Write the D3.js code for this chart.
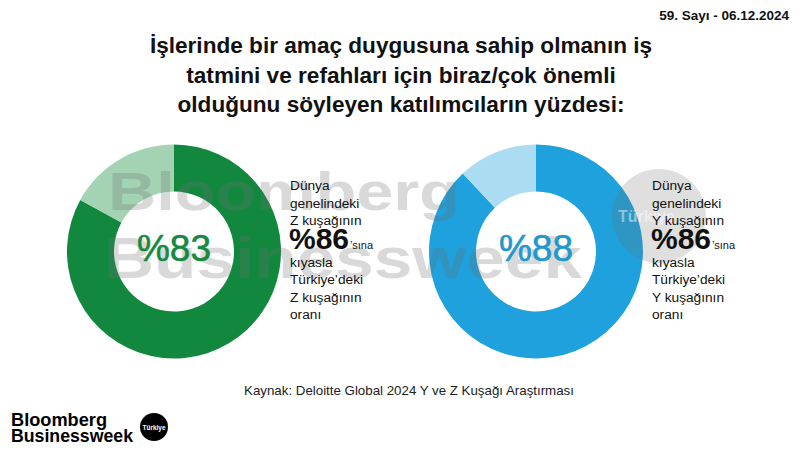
<!DOCTYPE html>
<html>
<head>
<meta charset="utf-8">
<script src="https://cdn.jsdelivr.net/npm/d3@7/dist/d3.min.js"></script>
<style>
  html, body { margin: 0; padding: 0; background: #fff; }
  svg { display: block; font-family: "Liberation Sans", Arial, sans-serif; }
</style>
</head>
<body>
<svg id="chart" width="800" height="450"></svg>
<script>
// ---- Data ----
const titleLines = [
  "İşlerinde bir amaç duygusuna sahip olmanın iş",
  "tatmini ve refahları için biraz/çok önemli",
  "olduğunu söyleyen katılımcıların yüzdesi:"
];
const issueLabel = "59. Sayı - 06.12.2024";
const sourceLabel = "Kaynak: Deloitte Global 2024 Y ve Z Kuşağı Araştırması";
const generations = ["Z", "Y"];
const turkeyValues = [83, 88];
const globalValues = [86, 86];
const mainColors = ["#12883f", "#1ea1dc"];
const restColors = ["#a3d3b3", "#acdcf2"];
const labelColors = ["#16893f", "#1f97cf"];

// ---- Drawing ----
const svg = d3.select("#chart");

// Title
const title = svg.append("text")
  .attr("x", 401).attr("y", 53)
  .attr("text-anchor", "middle")
  .attr("font-weight", "bold")
  .attr("font-size", 22.6)
  .attr("fill", "#111");
titleLines.forEach((t, i) => {
  title.append("tspan").attr("x", 401).attr("dy", i === 0 ? 0 : 29.5).text(t);
});

// Issue label
svg.append("text")
  .attr("x", 789).attr("y", 20)
  .attr("text-anchor", "end")
  .attr("font-weight", "bold")
  .attr("font-size", 13.5)
  .attr("fill", "#111")
  .text(issueLabel);

// Donut layout via band scale
const xScale = d3.scaleBand().domain(generations).range([0, 724]).paddingInner(0);
const centerX = g => xScale(g) + xScale.bandwidth() / 2 - 7;
const cy = 251.5;
const outerR = 107, innerR = 60;

const pie = d3.pie().sort(null).value(d => d.v);
const arc = d3.arc().innerRadius(innerR).outerRadius(outerR);

const donutLayer = svg.append("g");
generations.forEach((g, i) => {
  const data = [{ v: turkeyValues[i], c: mainColors[i] }, { v: 100 - turkeyValues[i], c: restColors[i] }];
  donutLayer.append("g")
    .attr("transform", `translate(${centerX(g)},${cy})`)
    .selectAll("path")
    .data(pie(data))
    .join("path")
    .attr("d", arc)
    .attr("fill", d => d.data.c);
});

// Watermark
const wm = svg.append("g").attr("opacity", 0.26).attr("fill", "#6e6e6e");
wm.append("text")
  .attr("x", 108).attr("y", 210)
  .attr("font-weight", "bold").attr("font-size", 54)
  .attr("textLength", 352).attr("lengthAdjust", "spacingAndGlyphs")
  .text("Bloomberg");
wm.append("text")
  .attr("x", 104).attr("y", 278)
  .attr("font-weight", "bold").attr("font-size", 57)
  .attr("textLength", 478).attr("lengthAdjust", "spacingAndGlyphs")
  .text("Businessweek");
svg.append("circle")
  .attr("cx", 659).attr("cy", 216).attr("r", 47)
  .attr("fill", "#6e6e6e").attr("opacity", 0.22);
svg.append("text")
  .attr("x", 618).attr("y", 222)
  .attr("font-weight", "bold").attr("font-size", 16)
  .attr("fill", "#fff").attr("opacity", 0.45)
  .text("Türkiye");

// Center labels
generations.forEach((g, i) => {
  svg.append("text")
    .attr("x", centerX(g)).attr("y", 261)
    .attr("text-anchor", "middle")
    .attr("font-size", 37)
    .attr("fill", labelColors[i])
    .attr("stroke", labelColors[i]).attr("stroke-width", 0.6)
    .text("%" + turkeyValues[i]);
});

// Side text blocks
generations.forEach((g, i) => {
  const x0 = centerX(g) + 116;
  const t = svg.append("g").attr("fill", "#111").attr("font-size", 13.7);
  const before = ["Dünya", "genelindeki", g + " kuşağının"];
  before.forEach((s, k) => {
    t.append("text").attr("x", x0).attr("y", 190 + k * 17.5).text(s);
  });
  const big = t.append("text").attr("x", x0 - 1).attr("y", 249);
  big.append("tspan").attr("font-weight", "bold").attr("font-size", 30).text("%" + globalValues[i]);
  big.append("tspan").attr("font-size", 11).attr("dx", 1).text("’sına");
  const after = ["kıyasla", "Türkiye’deki", g + " kuşağının", "oranı"];
  after.forEach((s, k) => {
    t.append("text").attr("x", x0).attr("y", 267 + k * 17.3).text(s);
  });
});

// Source
svg.append("text")
  .attr("x", 409).attr("y", 395)
  .attr("text-anchor", "middle")
  .attr("font-size", 13.3)
  .attr("fill", "#222")
  .text(sourceLabel);

// Logo
const logo = svg.append("g").attr("fill", "#000").attr("font-weight", "bold");
logo.append("text").attr("x", 11).attr("y", 426).attr("font-size", 18)
  .attr("textLength", 96).attr("lengthAdjust", "spacingAndGlyphs").text("Bloomberg");
logo.append("text").attr("x", 11).attr("y", 442).attr("font-size", 18)
  .attr("textLength", 122).attr("lengthAdjust", "spacingAndGlyphs").text("Businessweek");
svg.append("circle").attr("cx", 154).attr("cy", 427).attr("r", 14).attr("fill", "#000");
svg.append("text").attr("x", 154).attr("y", 429.5).attr("text-anchor", "middle")
  .attr("font-size", 6.5).attr("font-weight", "bold").attr("fill", "#fff").text("Türkiye");
</script>
</body>
</html>
